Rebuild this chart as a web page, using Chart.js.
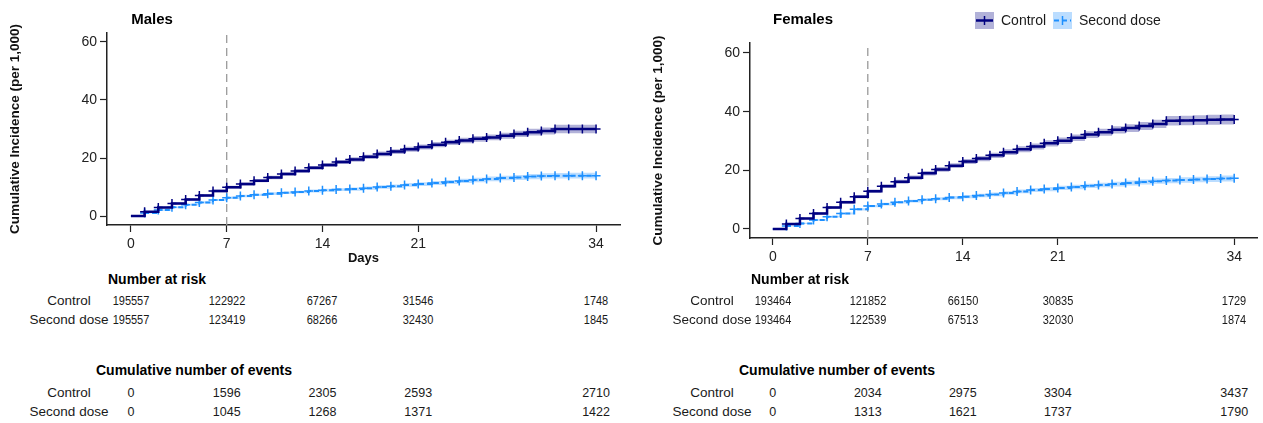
<!DOCTYPE html>
<html>
<head>
<meta charset="utf-8">
<title>Cumulative incidence by sex</title>
<script src="https://cdn.jsdelivr.net/npm/chart.js@4.4.1/dist/chart.umd.min.js"></script>
<style>
  html, body { margin: 0; padding: 0; background: #fff; }
  body { position: relative; width: 1263px; height: 423px; overflow: hidden;
         font-family: "Liberation Sans", Arial, Helvetica, sans-serif; color: #1a1a1a; }
  canvas { position: absolute; top: 0; }
  .t { position: absolute; white-space: nowrap; line-height: 1; }
  .title { font-weight: bold; font-size: 15px; color: #000; }
  .head { font-weight: bold; font-size: 14px; color: #000; }
  .lab { font-size: 13.5px; }
  .risk { font-size: 12.5px; }
  .evt { font-size: 12.5px; }
</style>
</head>
<body>
<canvas id="males" width="632" height="270" style="left:0;width:632px;height:270px"></canvas>
<canvas id="females" width="627" height="275" style="left:636px;width:627px;height:275px"></canvas>
<script>
"use strict";
var days = [0, 1, 2, 3, 4, 5, 6, 7, 8, 9, 10, 11, 12, 13, 14, 15, 16, 17,
    18, 19, 20, 21, 22, 23, 24, 25, 26, 27, 28, 29, 30, 31, 32, 33, 34];

// cumulative incidence per 1,000 and half width of the 95% band
var malesControl = [0, 1.5, 2.9, 4.3, 5.7, 7.1, 8.6, 9.9, 11.0, 12.2,
    13.3, 14.5, 15.5, 16.6, 17.6, 18.6, 19.5, 20.4, 21.4, 22.2,
    23.0, 23.8, 24.6, 25.4, 26.0, 26.6, 27.1, 27.7, 28.3, 28.9,
    29.3, 30.0, 30.0, 30.0, 30.0];
var malesControlHalf = [0, 0.2, 0.3, 0.35, 0.4, 0.45, 0.5, 0.5, 0.55, 0.55,
    0.6, 0.6, 0.65, 0.65, 0.7, 0.7, 0.75, 0.75, 0.8, 0.8,
    0.85, 0.85, 0.9, 0.9, 0.95, 1.0, 1.0, 1.05, 1.1, 1.15,
    1.2, 1.5, 1.5, 1.5, 1.5];
var malesDose = [0, 1.0, 2.1, 3.0, 3.9, 4.7, 5.5, 6.3, 6.9, 7.3,
    7.7, 8.0, 8.3, 8.6, 8.9, 9.1, 9.3, 9.6, 10.0, 10.3,
    10.7, 11.0, 11.4, 11.7, 12.1, 12.4, 12.8, 13.1, 13.3, 13.6,
    13.8, 13.9, 13.9, 13.9, 13.9];
var malesDoseHalf = [0, 0.15, 0.25, 0.3, 0.3, 0.35, 0.35, 0.4, 0.4, 0.4,
    0.45, 0.45, 0.45, 0.5, 0.5, 0.5, 0.55, 0.55, 0.6, 0.6,
    0.65, 0.65, 0.7, 0.7, 0.75, 0.75, 0.8, 0.8, 0.85, 0.9,
    0.9, 0.95, 1.0, 1.0, 1.0];

var femalesControl = [0, 1.7, 3.6, 5.3, 7.3, 9.1, 11.0, 12.9, 14.6, 16.1,
    17.5, 19.0, 20.3, 21.6, 23.0, 24.0, 25.1, 26.2, 27.2, 28.1,
    29.2, 30.1, 31.1, 32.2, 33.0, 33.8, 34.4, 35.1, 35.8, 36.9,
    37.0, 37.1, 37.2, 37.3, 37.3];
var femalesControlHalf = [0, 0.2, 0.3, 0.4, 0.45, 0.5, 0.55, 0.6, 0.65, 0.7,
    0.7, 0.75, 0.8, 0.8, 0.85, 0.9, 0.9, 0.95, 1.0, 1.0,
    1.05, 1.1, 1.1, 1.15, 1.2, 1.25, 1.3, 1.35, 1.4, 1.6,
    1.6, 1.65, 1.7, 1.7, 1.7];
var femalesDose = [0, 1.0, 1.9, 3.1, 4.2, 5.3, 6.7, 7.8, 8.5, 9.1,
    9.5, 10.0, 10.3, 10.7, 11.0, 11.4, 11.8, 12.3, 12.8, 13.3,
    13.6, 14.0, 14.3, 14.7, 15.0, 15.3, 15.7, 16.0, 16.3, 16.5,
    16.7, 16.9, 17.0, 17.2, 17.3];
var femalesDoseHalf = [0, 0.15, 0.2, 0.25, 0.3, 0.35, 0.4, 0.4, 0.45, 0.45,
    0.5, 0.5, 0.5, 0.55, 0.55, 0.6, 0.6, 0.6, 0.65, 0.65,
    0.7, 0.7, 0.75, 0.75, 0.8, 0.8, 0.85, 0.85, 0.9, 0.9,
    0.95, 0.95, 1.0, 1.0, 1.0];

// tables under each plot, one value per tick day
var dayTicks = [0, 7, 14, 21, 34];
var incTicks = [0, 20, 40, 60];
var cutoffDay = 7;
var malesRiskControl = [195557, 122922, 67267, 31546, 1748];
var malesRiskDose = [195557, 123419, 68266, 32430, 1845];
var malesEventsControl = [0, 1596, 2305, 2593, 2710];
var malesEventsDose = [0, 1045, 1268, 1371, 1422];
var femalesRiskControl = [193464, 121852, 66150, 30835, 1729];
var femalesRiskDose = [193464, 122539, 67513, 32030, 1874];
var femalesEventsControl = [0, 2034, 2975, 3304, 3437];
var femalesEventsDose = [0, 1313, 1621, 1737, 1790];

var NAVY = "#000080";
var BLUE = "#1e90ff";
var NAVY_BAND = "rgba(0, 0, 128, 0.3)";
var BLUE_BAND = "rgba(30, 144, 255, 0.3)";
var font = "'Liberation Sans', Arial, sans-serif";

function pts(vals) {
    return days.map(function (d, i) { return { x: d, y: vals[i] }; });
}
function edge(vals, half, sign) {
    return days.map(function (d, i) { return { x: d, y: vals[i] + sign * half[i] }; });
}
var markRadius = days.map(function (d) { return d === 0 ? 0 : 4.5; });

// R-style legend: shaded band swatch with the line and the + mark through it
var boxLegend = {
    id: "boxLegend",
    afterDraw: function (chart, args, opts) {
        if (!opts.items) return;
        var ctx = chart.ctx;
        var y = opts.y;
        opts.items.forEach(function (it) {
            var ds = chart.data.datasets[it.dataset];
            ctx.save();
            ctx.fillStyle = it.band;
            ctx.fillRect(it.x, y - 8.5, 19, 17);
            ctx.strokeStyle = ds.borderColor;
            ctx.lineWidth = ds.borderWidth;
            ctx.setLineDash(ds.borderDash || []);
            ctx.beginPath();
            ctx.moveTo(it.x + 1, y);
            ctx.lineTo(it.x + 18, y);
            ctx.stroke();
            ctx.setLineDash([]);
            ctx.lineWidth = 1.5;
            ctx.beginPath();
            ctx.moveTo(it.x + 9.5, y - 4.5);
            ctx.lineTo(it.x + 9.5, y + 4.5);
            ctx.stroke();
            ctx.fillStyle = "#1a1a1a";
            ctx.font = "14px " + font;
            ctx.textBaseline = "middle";
            ctx.fillText(ds.label, it.x + 26, y + 0.5);
            ctx.restore();
        });
    }
};

function axisStyle() {
    return {
        grid: { drawOnChartArea: false, drawTicks: true, tickLength: 7, tickColor: "#222", tickWidth: 1.2 },
        border: { color: "#222", width: 1.5 },
        ticks: { color: "#222", font: { family: font, size: 14 }, maxRotation: 0, autoSkip: false }
    };
}

function panel(id, p) {
    var datasets = [
        {
            label: "Control", data: pts(p.control), stepped: true,
            borderColor: NAVY, borderWidth: 2.5, fill: false,
            pointStyle: "cross", pointRadius: markRadius,
            pointBorderColor: NAVY, pointBorderWidth: 1.5
        },
        {
            label: "Second dose", data: pts(p.dose), stepped: true,
            borderColor: BLUE, borderWidth: 2, borderDash: [5, 3], fill: false,
            pointStyle: "cross", pointRadius: markRadius,
            pointBorderColor: BLUE, pointBorderWidth: 1.5
        },
        { data: edge(p.control, p.controlHalf, 1), stepped: true, borderWidth: 0, pointRadius: 0, fill: "+1", backgroundColor: NAVY_BAND },
        { data: edge(p.control, p.controlHalf, -1), stepped: true, borderWidth: 0, pointRadius: 0, fill: false },
        { data: edge(p.dose, p.doseHalf, 1), stepped: true, borderWidth: 0, pointRadius: 0, fill: "+1", backgroundColor: BLUE_BAND },
        { data: edge(p.dose, p.doseHalf, -1), stepped: true, borderWidth: 0, pointRadius: 0, fill: false },
        // dashed reference line at day 7
        {
            data: [{ x: cutoffDay, y: p.yMin }, { x: cutoffDay, y: p.yMax }],
            borderColor: "#9a9a9a", borderWidth: 1.3, borderDash: [8, 5], pointRadius: 0, fill: false
        }
    ];

    var x = axisStyle();
    x.type = "linear";
    x.min = p.xMin;
    x.max = p.xMax;
    x.ticks.padding = 4;
    x.afterBuildTicks = function (a) { a.ticks = dayTicks.map(function (v) { return { value: v }; }); };
    x.afterFit = function (s) { s.height = p.xAxisHeight; };
    x.title = p.xTitle ? {
        display: true, text: p.xTitle, color: "#111",
        font: { family: font, size: 13, weight: "bold" }, padding: { top: 0, bottom: 4 }
    } : { display: false };

    var y = axisStyle();
    y.type = "linear";
    y.min = p.yMin;
    y.max = p.yMax;
    y.ticks.padding = 3;
    y.afterBuildTicks = function (a) { a.ticks = incTicks.map(function (v) { return { value: v }; }); };
    y.afterFit = function (s) { s.width = p.yAxisWidth; };
    y.title = {
        display: true, text: "Cumulative Incidence (per 1,000)", color: "#111",
        font: { family: font, size: 13.5, weight: "bold" }, padding: { top: p.yTitlePad, bottom: 0 }
    };

    return new Chart(document.getElementById(id), {
        type: "line",
        data: { datasets: datasets },
        options: {
            responsive: false,
            animation: false,
            events: [],
            layout: { padding: { left: 0, top: p.top, right: p.right, bottom: 0 } },
            scales: { x: x, y: y },
            plugins: {
                legend: { display: false },
                tooltip: { enabled: false },
                boxLegend: p.legend || {}
            }
        },
        plugins: [boxLegend]
    });
}

function text(str, x, y, cls, align, squeeze) {
    var el = document.createElement("div");
    el.className = "t " + cls;
    el.textContent = str;
    el.style.left = x + "px";
    el.style.top = y + "px";
    var tf = align === "left" ? "translate(0,-50%)" : "translate(-50%,-50%)";
    if (squeeze) tf += " scaleX(" + squeeze + ")";
    el.style.transform = tf;
    document.body.appendChild(el);
}

function tables(chart, left, t) {
    var xs = dayTicks.map(function (d) { return left + chart.scales.x.getPixelForValue(d); });
    text("Number at risk", t.riskHeadX, 279, "head", "left");
    text("Control", t.labelX, 301, "lab");
    text("Second dose", t.labelX, 320, "lab");
    xs.forEach(function (px, i) {
        text(String(t.riskControl[i]), px, 301, "risk", "center", 0.88);
        text(String(t.riskDose[i]), px, 320, "risk", "center", 0.88);
    });
    text("Cumulative number of events", t.eventsHeadX, 370, "head", "left");
    text("Control", t.labelX, 393, "lab");
    text("Second dose", t.labelX, 412, "lab");
    xs.forEach(function (px, i) {
        text(String(t.eventsControl[i]), px, 393, "evt");
        text(String(t.eventsDose[i]), px, 412, "evt");
    });
}

var males = panel("males", {
    control: malesControl, controlHalf: malesControlHalf,
    dose: malesDose, doseHalf: malesDoseHalf,
    xMin: -1.75, xMax: 35.75, yMin: -3.1, yMax: 63.1,
    top: 33, right: 12, yAxisWidth: 107, xAxisHeight: 45,
    yTitlePad: 7, xTitle: "Days"
});
var females = panel("females", {
    control: femalesControl, controlHalf: femalesControlHalf,
    dose: femalesDose, doseHalf: femalesDoseHalf,
    xMin: -1.68, xMax: 35.68, yMin: -3.07, yMax: 63.4,
    top: 43, right: 1, yAxisWidth: 114, xAxisHeight: 37,
    yTitlePad: 14,
    legend: {
        y: 20.5,
        items: [
            { dataset: 0, x: 339, band: NAVY_BAND },
            { dataset: 1, x: 417, band: BLUE_BAND }
        ]
    }
});

text("Males", 152, 18, "title");
text("Females", 803, 18, "title");

tables(males, 0, {
    labelX: 69, riskHeadX: 108, eventsHeadX: 96,
    riskControl: malesRiskControl, riskDose: malesRiskDose,
    eventsControl: malesEventsControl, eventsDose: malesEventsDose
});
tables(females, 636, {
    labelX: 712, riskHeadX: 751, eventsHeadX: 739,
    riskControl: femalesRiskControl, riskDose: femalesRiskDose,
    eventsControl: femalesEventsControl, eventsDose: femalesEventsDose
});
</script>
</body>
</html>
